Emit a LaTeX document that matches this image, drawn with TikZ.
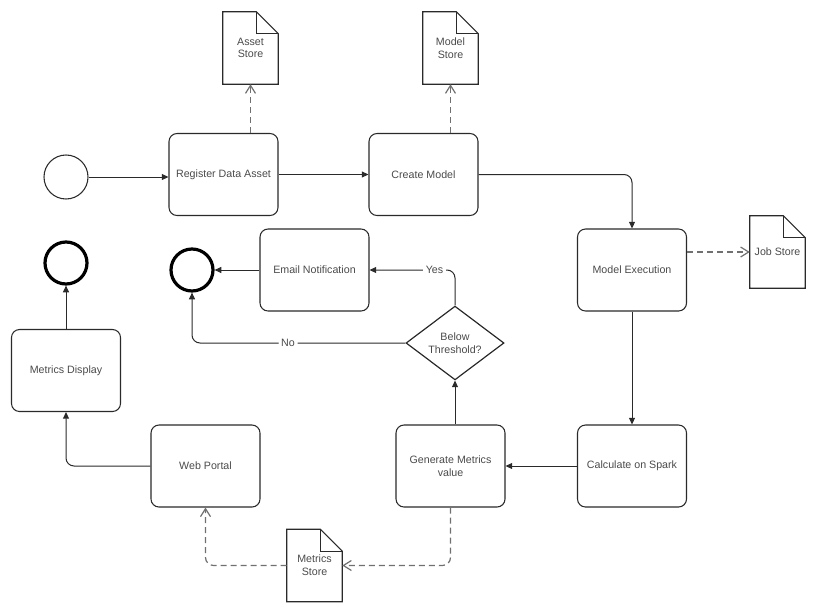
\documentclass[tikz,border=0pt]{standalone}
\usepackage{fontspec}
\setmainfont{Liberation Sans}
\usetikzlibrary{arrows.meta,shapes.geometric}
\definecolor{ln}{HTML}{2A2A2A}
\definecolor{dl}{HTML}{707070}
\definecolor{tx}{HTML}{4A4A4A}
\newcommand\docout[1]{%
  \draw[docline] (#1.north west) -- ([xshift=-16.5pt]#1.north east) -- ([yshift=-16.5pt]#1.north east) -- (#1.south east) -- (#1.south west) -- cycle;
  \draw[docline] ([xshift=-16.5pt]#1.north east) |- ([yshift=-16.5pt]#1.north east);}
\begin{document}
\begin{tikzpicture}[x=0.75pt,y=-0.75pt,
  every node/.style={font=\fontsize{8}{9.5}\selectfont, text=tx},
  task/.style={draw=ln, line width=0.8pt, rounded corners=6pt, minimum width=81.75pt, minimum height=61.5pt, align=center, inner sep=2pt},
  doc/.style={minimum width=41.25pt, minimum height=54pt, align=center, inner sep=1pt},
  docline/.style={draw=ln, line width=0.8pt},
  startev/.style={circle, draw=ln, line width=0.8pt, minimum size=33pt, inner sep=0pt},
  endev/.style={circle, draw=black, line width=2.4pt, minimum size=31.5pt, inner sep=0pt},
  flow/.style={draw=ln, line width=0.75pt, -{Triangle[length=5pt,width=4.5pt]}},
  dflow/.style={draw=dl, line width=0.9pt, dash pattern=on 4.5pt off 3pt, -{Straight Barb[length=6pt,width=7.5pt]}},
  lab/.style={fill=white, inner sep=2pt, text=tx},
  decision/.style={diamond, draw=ln, line width=0.9pt, minimum width=73.5pt, minimum height=48pt, inner sep=0pt, align=center}
]
\useasboundingbox (0,0) rectangle (813,607);

% tasks
\node[task] (reg) at (223.5,174.5) {Register Data Asset};
\node[task] (cm) at (423.5,174.5) {Create Model};
\node[task] (me) at (632,270) {Model Execution};
\node[task] (email) at (314.5,270) {Email Notification};
\node[task] (gen) at (450.5,466) {Generate Metrics\\value};
\node[task] (spark) at (632,466) {Calculate on Spark};
\node[task] (web) at (205.5,466) {Web Portal};
\node[task] (md) at (66,370.5) {Metrics Display};

% events
\node[startev] (start) at (66,177) {};
\node[endev] (endA) at (192,270) {};
\node[endev] (endB) at (66,263) {};

% decision
\node[decision] (dec) at (455,343) {Below\\Threshold?};

% documents
\node[doc] (as) at (250.5,48) {Asset\\Store};
\node[doc] (ms) at (450.5,48) {Model\\Store};
\node[doc] (js) at (777.5,252) {Job Store};
\node[doc] (mts) at (314.5,565.5) {Metrics\\Store};
\docout{as}
\docout{ms}
\docout{js}
\docout{mts}

% solid flows
\draw[flow] (start.east) -- (start.east -| reg.west);
\draw[flow] (reg) -- (cm);
\draw[flow, rounded corners=6pt] (cm.east) -| (me.north);
\draw[flow] (me) -- (spark);
\draw[flow] (spark) -- (gen);
\draw[flow] (dec.south |- gen.north) -- (dec.south);
\draw[flow, rounded corners=6pt] (dec.north) |- node[lab, pos=0.62] {Yes} (email.east);
\draw[flow, rounded corners=6pt] (dec.west) -| node[lab, pos=0.275] {No} (endA.south);
\draw[flow] (email) -- (endA);
\draw[flow, rounded corners=6pt] (web.west) -| (md.south);
\draw[flow] (md) -- (endB);

% dashed associations
\draw[dflow] (as.south |- reg.north) -- (as.south);
\draw[dflow] (ms.south |- cm.north) -- (ms.south);
\draw[dflow] (me.east |- js.west) -- (js.west);
\draw[dflow, rounded corners=6pt] (gen.south) |- (mts.east);
\draw[dflow, rounded corners=6pt] (mts.west) -| (web.south);
\end{tikzpicture}
\end{document}
